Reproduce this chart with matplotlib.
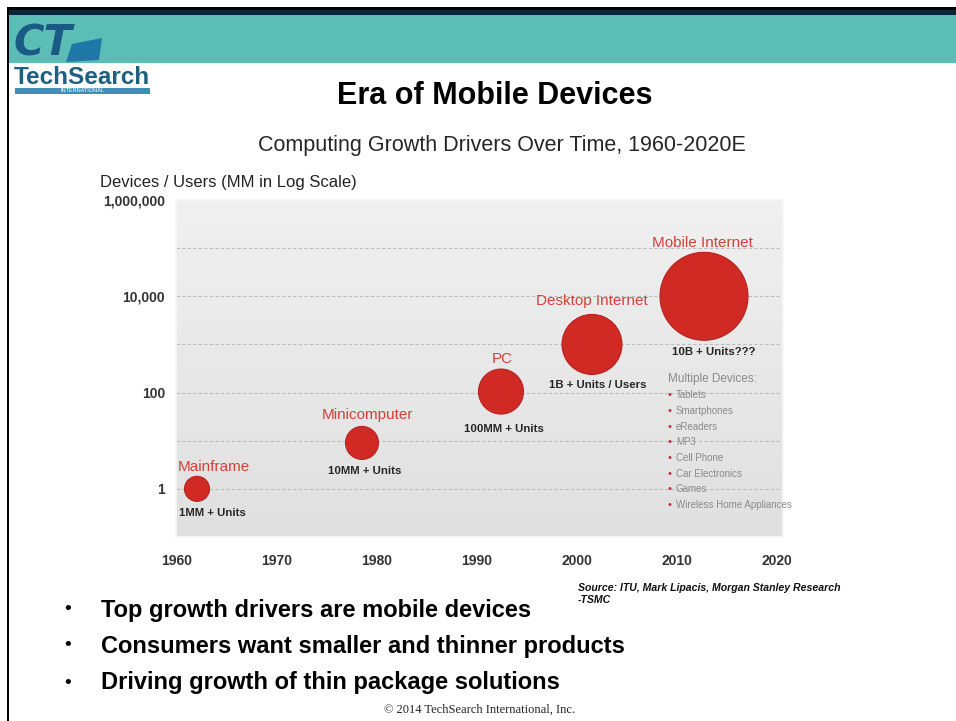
import matplotlib
matplotlib.use('Agg')
import matplotlib.pyplot as plt
from matplotlib.patches import Rectangle, Polygon
from matplotlib.colors import LinearSegmentedColormap
import numpy as np

plt.rcParams['font.family'] = ['Liberation Sans', 'DejaVu Sans']

# ---------------- data ----------------
eras = ['Mainframe', 'Minicomputer', 'PC', 'Desktop Internet', 'Mobile Internet']
years = [1962, 1978.5, 1992.4, 2001.5, 2012.7]
users_mm = [1, 9, 105, 1000, 10000]
bubble_area = [324, 564, 1050, 1866, 4014]
unit_labels = ['1MM + Units', '10MM + Units', '100MM + Units',
               '1B + Units / Users', '10B + Units???']
x_ticks = [1960, 1970, 1980, 1990, 2000, 2010, 2020]
y_ticks = [1, 100, 10000, 1000000]
y_tick_labels = ['1', '100', '10,000', '1,000,000']
grid_levels = [1, 10, 100, 1000, 10000, 100000]
devices = ['Tablets', 'Smartphones', 'eReaders', 'MP3', 'Cell Phone',
           'Car Electronics', 'Games', 'Wireless Home Appliances']
bullets = ['Top growth drivers are mobile devices',
           'Consumers want smaller and thinner products',
           'Driving growth of thin package solutions']

# label offsets in pixels relative to bubble centre (x right, y up)
red_off = [(17, 22), (6, 28), (1, 33), (0, 43), (-2, 53)]
blk_off = [(15, -24), (3, -28), (3, -37), (6, -41), (10, -56)]

W, H = 956, 721
fig = plt.figure(figsize=(W / 100, H / 100), dpi=100)
fig.patch.set_facecolor('white')

# ---------- slide background in pixel coordinates ----------
bg = fig.add_axes([0, 0, 1, 1])
bg.set_xlim(0, W)
bg.set_ylim(H, 0)
bg.axis('off')

bg.add_patch(Rectangle((8, 15), W - 8, 48, color='#5bbdb6', lw=0))
bg.add_patch(Rectangle((8, 10), W - 8, 5, color='#06263a', lw=0))
bg.add_patch(Rectangle((8, 7), W - 8, 3, color='black', lw=0))
bg.add_patch(Rectangle((7, 7), 2.5, H - 7, color='black', lw=0))

# logo
bg.text(14, 44, 'CT', fontsize=30, fontweight='bold', fontstyle='italic',
        color='#1a5b85', va='center', ha='left', family='DejaVu Sans')
bg.add_patch(Polygon([(72, 44), (102, 38), (99, 60), (66, 62)],
                     closed=True, color='#1f78a8', lw=0))
bg.text(14, 77, 'TechSearch', fontsize=17.5, fontweight='bold',
        color='#1f5f80', va='center', ha='left')
bg.add_patch(Rectangle((15, 88), 135, 6, color='#3f8fb3', lw=0))
bg.text(82, 91, 'INTERNATIONAL', fontsize=4, color='white',
        va='center', ha='center')

# titles
bg.text(495, 96, 'Era of Mobile Devices', fontsize=22, fontweight='bold',
        ha='center', va='center', color='black')
bg.text(502, 146, 'Computing Growth Drivers Over Time, 1960-2020E',
        fontsize=15.5, ha='center', va='center', color='#262626')
bg.text(100, 183, 'Devices / Users (MM in Log Scale)', fontsize=12,
        ha='left', va='center', color='#222222')

# source
bg.text(578, 588, 'Source: ITU, Mark Lipacis, Morgan Stanley Research',
        fontsize=7.6, fontweight='bold', fontstyle='italic', ha='left',
        va='center', color='#111111')
bg.text(578, 600, '-TSMC', fontsize=7.6, fontweight='bold', fontstyle='italic',
        ha='left', va='center', color='#111111')

# bullets
for b, yy in zip(bullets, [610, 646, 683]):
    bg.text(68, yy, '\u2022', fontsize=14, ha='center', va='center',
            color='black')
    bg.text(101, yy, b, fontsize=17, fontweight='bold', ha='left',
            va='center', color='black')

bg.text(480, 710, '\u00a9 2014 TechSearch International, Inc.', fontsize=9,
        ha='center', va='center', color='#222222', family='Liberation Serif')

# ---------------- chart ----------------
ax = fig.add_axes([176 / W, 1 - 537 / H, (783 - 176) / W, (537 - 200) / H])
ax.set_yscale('log')
ax.set_xlim(1959.9, 2020.6)
ax.set_ylim(0.1, 1e6)

grad = np.linspace(0, 1, 256).reshape(-1, 1)
cmap = LinearSegmentedColormap.from_list('g', ['#f0f0f0', '#e0e0e0'])
ax.imshow(grad, extent=[0, 1, 0, 1], transform=ax.transAxes, aspect='auto',
          cmap=cmap, zorder=0, origin='upper')

for g in grid_levels:
    ax.axhline(g, color='#bcbcbc', lw=0.8, ls=(0, (3, 2)), zorder=1)

ax.scatter(years, users_mm, s=bubble_area, color='#d12a24',
           edgecolor='#b52222', linewidth=0.8, zorder=3)

for i in range(len(eras)):
    ax.annotate(eras[i], (years[i], users_mm[i]), xytext=red_off[i],
                textcoords='offset pixels', ha='center', va='center',
                fontsize=11, color='#d4403a', zorder=4)
    ax.annotate(unit_labels[i], (years[i], users_mm[i]), xytext=blk_off[i],
                textcoords='offset pixels', ha='center', va='center',
                fontsize=8.2, fontweight='bold', color='#262626', zorder=4)

ax.set_xticks(x_ticks)
ax.set_xticklabels([str(t) for t in x_ticks])
ax.set_yticks(y_ticks)
ax.set_yticklabels(y_tick_labels)
ax.minorticks_off()
ax.tick_params(axis='both', length=0, labelsize=10, colors='#333333')
ax.tick_params(axis='x', pad=12)
ax.tick_params(axis='y', pad=8)
for lab in ax.get_xticklabels() + ax.get_yticklabels():
    lab.set_fontweight('bold')
for sp in ax.spines.values():
    sp.set_color('#f7f7f7')
    sp.set_linewidth(1.2)

# ---------- overlay (multiple devices list, above chart) ----------
ov = fig.add_axes([0, 0, 1, 1], facecolor='none')
ov.set_xlim(0, W)
ov.set_ylim(H, 0)
ov.axis('off')
ov.text(668, 379, 'Multiple Devices:', fontsize=8.5, ha='left', va='center',
        color='#8a8a8a')
dev_y = [395, 411, 427, 442, 458, 474, 489, 505]
for d, yy in zip(devices, dev_y):
    ov.text(670, yy, '\u2022', fontsize=8, ha='center', va='center',
            color='#c0303a')
    ov.text(676, yy, d, fontsize=7, ha='left', va='center', color='#8a8a8a')

fig.savefig('out.png', dpi=100, facecolor='white')
